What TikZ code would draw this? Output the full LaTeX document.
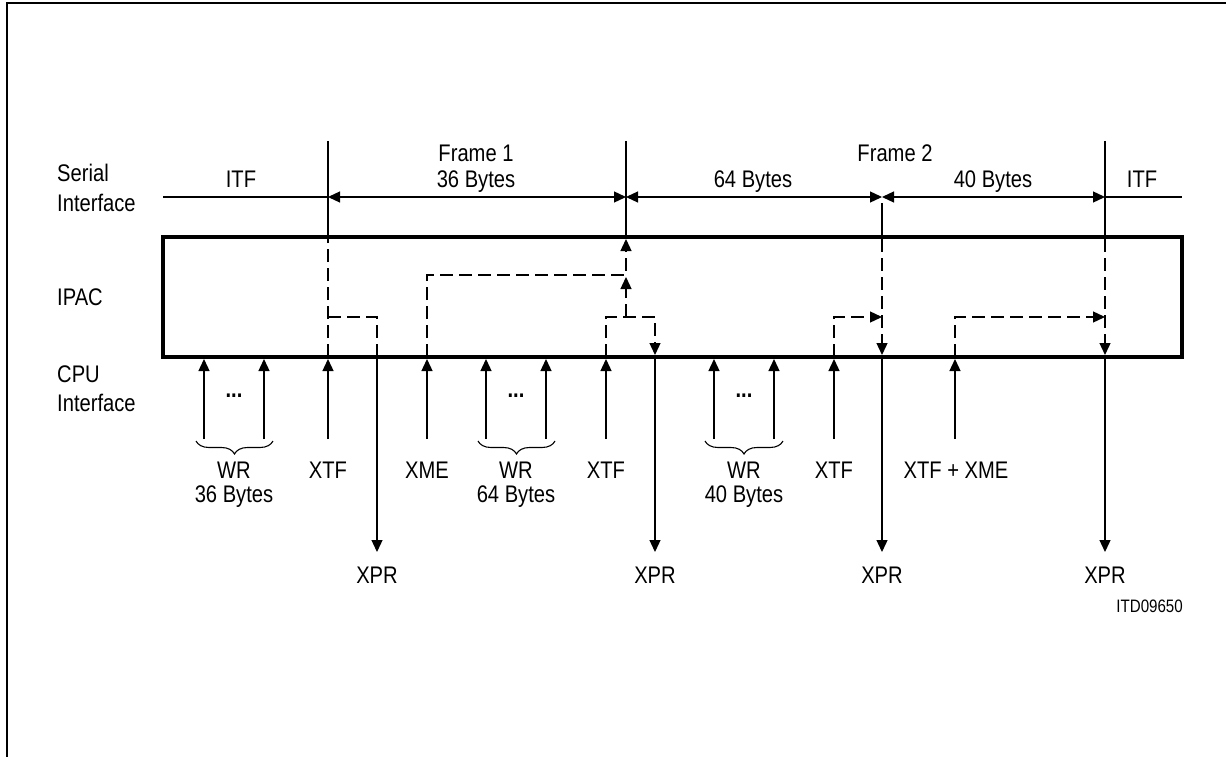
\documentclass[tikz,border=0pt]{standalone}
\usepackage{fontspec}
\setmainfont{Liberation Sans}[FakeStretch=0.84]
\usetikzlibrary{arrows.meta, decorations.pathreplacing}
\tikzset{
  >={Triangle[length=12pt,width=11pt]},
  lab/.style={font=\fontsize{24}{27}\selectfont, inner sep=0pt, anchor=base},
  side/.style={lab, anchor=base west},
  sig/.style={line width=1.3pt},
  ctl/.style={line width=1.3pt, dash pattern=on 13pt off 6pt},
  chip/.style={line width=3.2pt},
  brc/.style={line width=1.1pt, decorate, decoration={brace, mirror, amplitude=13pt}}
}

\begin{document}
\begin{tikzpicture}[x=1pt, y=-1pt]
  \useasboundingbox (0,0) rectangle (1226,757);
  % page frame
  \draw[line width=2.6pt] (7,757) -- (7,3) -- (1226,3);

  % serial interface time line
  \coordinate (s0) at (163,197);
  \coordinate (s1) at (328,197);
  \coordinate (s2) at (626,197);
  \coordinate (s3) at (882,197);
  \coordinate (s4) at (1105,197);
  \coordinate (s5) at (1182,197);
  \draw[sig] (s0) -- (s1);
  \draw[sig,<->] (s1) -- (s2);
  \draw[sig,<->] (s2) -- (s3);
  \draw[sig,<->] (s3) -- (s4);
  \draw[sig] (s4) -- (s5);
  \foreach \x/\y in {328/141, 626/141, 882/203, 1105/141}
    \draw[sig] (\x,\y) -- (\x,237);

  \node[side] (ser) at (57,182) {Serial};
  \node[side] (serb) at (57,211) {Interface};
  \node[lab] (itf1) at (241,187) {ITF};
  \node[lab] (fr1) at (476,161) {Frame 1};
  \node[lab] (b36) at (476,187) {36 Bytes};
  \node[lab] (fr2) at (895,161) {Frame 2};
  \node[lab] (b64) at (753,187) {64 Bytes};
  \node[lab] (b40) at (993,187) {40 Bytes};
  \node[lab] (itf2) at (1142,187) {ITF};

  % IPAC
  \draw[chip] (163,237) rectangle (1182,357);
  \node[side] (ipac) at (57,305) {IPAC};

  % internal flow
  \draw[ctl] (328,357) -- (328,237);
  \draw[ctl] (328,317) -- (377,317) -- (377,357);
  \draw[ctl,->] (427,357) -- (427,275) -- (626,275) -- (626,239);
  \draw[ctl,->] (606,357) -- (606,317) -- (655,317) -- (655,355);
  \draw[ctl,->] (626,317) -- (626,277);
  \draw[ctl,->] (834,357) -- (834,317) -- (882,317);
  \draw[ctl,->] (882,239) -- (882,355);
  \draw[ctl,->] (955,357) -- (955,317) -- (1105,317);
  \draw[ctl,->] (1105,239) -- (1105,355);

  % CPU interface
  \node[side] (cpu) at (57,382) {CPU};
  \node[side] (cpub) at (57,411) {Interface};
  \foreach \x in {204,264,328,427,486,546,606,714,774,834,955}
    \draw[sig,->] (\x,439) -- (\x,359);
  \foreach \x in {377,655,882,1105}
    \draw[sig,->] (\x,357) -- (\x,552);

  \foreach \x/\a/\b in {234/196/273, 516/478/555, 744/705/783} {
    \node[lab, anchor=center, font=\fontsize{24}{27}\selectfont\bfseries] at (\x,396) {...};
    \draw[brc] (\a,441) -- (\b,441);
  }
  \node[lab] (wr1) at (234,478) {WR};
  \node[lab] (wr1b) at (234,502) {36 Bytes};
  \node[lab] (wr2) at (516,478) {WR};
  \node[lab] (wr2b) at (516,502) {64 Bytes};
  \node[lab] (wr3) at (744,478) {WR};
  \node[lab] (wr3b) at (744,502) {40 Bytes};
  \node[lab] (xtf1) at (328,478) {XTF};
  \node[lab] (xme) at (427,478) {XME};
  \node[lab] (xtf2) at (606,478) {XTF};
  \node[lab] (xtf3) at (834,478) {XTF};
  \node[lab] (xtfme) at (956,478) {XTF + XME};
  \foreach \x [count=\i] in {377,655,882,1105}
    \node[lab] (xpr\i) at (\x,583) {XPR};

  \node[lab, anchor=base east, font=\fontsize{18}{20}\selectfont] (itd) at (1183,612) {ITD09650};
\end{tikzpicture}
\end{document}
